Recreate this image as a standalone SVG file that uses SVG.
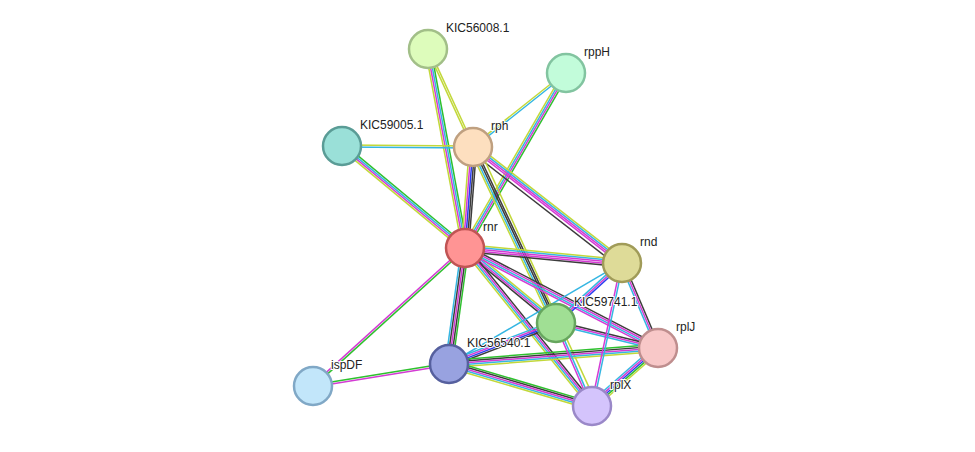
<svg xmlns="http://www.w3.org/2000/svg" width="975" height="452" viewBox="0 0 975 452">
<style>
line{stroke-width:1.5;fill:none}
.y{stroke:#c2d83a}.c{stroke:#35b6e2}.m{stroke:#d43bd4}.k{stroke:#3c3c3c}.g{stroke:#2ec02e}.b{stroke:#2a3cf0}
circle{stroke-width:2.5}
text{font-family:"Liberation Sans",Arial,sans-serif;font-size:12px;fill:#222;paint-order:stroke;stroke:#fff;stroke-width:2px}
</style>
<rect width="975" height="452" fill="#fff"/>
<g id="edges">
<g transform="translate(428,49) rotate(65.3)"><line x2="107.8" y1="-1" y2="-1" class="y"/><line x2="107.8" y1="1" y2="1" class="y"/></g>
<g transform="translate(428,49) rotate(79.5)"><line x2="202.4" y1="-2.7" y2="-2.7" class="g"/><line x2="202.4" y1="-0.9" y2="-0.9" class="c"/><line x2="202.4" y1="0.9" y2="0.9" class="m"/><line x2="202.4" y1="2.7" y2="2.7" class="y"/></g>
<g transform="translate(566,73) rotate(141.5)"><line x2="118.8" y1="-1" y2="-1" class="c"/><line x2="118.8" y1="1" y2="1" class="y"/></g>
<g transform="translate(566,73) rotate(120)"><line x2="202.1" y1="-2.7" y2="-2.7" class="g"/><line x2="202.1" y1="-0.9" y2="-0.9" class="m"/><line x2="202.1" y1="0.9" y2="0.9" class="c"/><line x2="202.1" y1="2.7" y2="2.7" class="y"/></g>
<g transform="translate(342,146) rotate(0.4)"><line x2="131" y1="-1" y2="-1" class="y"/><line x2="131" y1="1" y2="1" class="c"/></g>
<g transform="translate(342,146) rotate(39.7)"><line x2="159.8" y1="-2.7" y2="-2.7" class="g"/><line x2="159.8" y1="-0.9" y2="-0.9" class="c"/><line x2="159.8" y1="0.9" y2="0.9" class="m"/><line x2="159.8" y1="2.7" y2="2.7" class="y"/></g>
<g transform="translate(473,147) rotate(94.5)"><line x2="101.3" y1="-3.6" y2="-3.6" class="k"/><line x2="101.3" y1="-1.8" y2="-1.8" class="k"/><line x2="101.3" y1="0" y2="0" class="b"/><line x2="101.3" y1="1.8" y2="1.8" class="m"/><line x2="101.3" y1="3.6" y2="3.6" class="y"/></g>
<g transform="translate(473,147) rotate(37.9)"><line x2="188.8" y1="-3.6" y2="-3.6" class="y"/><line x2="188.8" y1="-1.8" y2="-1.8" class="c"/><line x2="188.8" y1="0" y2="0" class="m"/><line x2="188.8" y1="1.8" y2="1.8" class="m"/><line x2="188.8" y1="5" y2="5" class="k"/></g>
<g transform="translate(473,147) rotate(64.8)"><line x2="194.6" y1="-1.8" y2="-1.8" class="k"/><line x2="194.6" y1="0" y2="0" class="k"/><line x2="194.6" y1="2" y2="2" class="c"/><line x2="194.6" y1="3.8" y2="3.8" class="y"/></g>
<g transform="translate(473,147) rotate(65.3)"><line x2="285" y1="-5" y2="-5" class="y"/></g>
<g transform="translate(465,248) rotate(5.5)"><line x2="157.7" y1="-3.6" y2="-3.6" class="y"/><line x2="157.7" y1="-1.8" y2="-1.8" class="c"/><line x2="157.7" y1="0" y2="0" class="m"/><line x2="157.7" y1="1.8" y2="1.8" class="m"/><line x2="157.7" y1="3.6" y2="3.6" class="k"/></g>
<g transform="translate(465,248) rotate(39.5)"><line x2="117.9" y1="-2.7" y2="-2.7" class="y"/><line x2="117.9" y1="-0.9" y2="-0.9" class="c"/><line x2="117.9" y1="0.9" y2="0.9" class="m"/><line x2="117.9" y1="2.7" y2="2.7" class="k"/></g>
<g transform="translate(465,248) rotate(27.4)"><line x2="217.4" y1="-2.7" y2="-2.7" class="k"/><line x2="217.4" y1="-0.9" y2="-0.9" class="m"/><line x2="217.4" y1="0.9" y2="0.9" class="c"/><line x2="217.4" y1="2.7" y2="2.7" class="m"/></g>
<g transform="translate(465,248) rotate(51.2)"><line x2="202.7" y1="-2.7" y2="-2.7" class="k"/><line x2="202.7" y1="-0.9" y2="-0.9" class="m"/><line x2="202.7" y1="0.9" y2="0.9" class="c"/><line x2="202.7" y1="2.7" y2="2.7" class="y"/></g>
<g transform="translate(465,248) rotate(97.9)"><line x2="117.1" y1="-3.6" y2="-3.6" class="g"/><line x2="117.1" y1="-1.8" y2="-1.8" class="k"/><line x2="117.1" y1="0" y2="0" class="m"/><line x2="117.1" y1="1.8" y2="1.8" class="k"/><line x2="117.1" y1="3.6" y2="3.6" class="c"/></g>
<g transform="translate(465,248) rotate(137.8)"><line x2="205.3" y1="-1" y2="-1" class="g"/><line x2="205.3" y1="1" y2="1" class="m"/></g>
<g transform="translate(449,364) rotate(170.8)"><line x2="137.8" y1="-1" y2="-1" class="m"/><line x2="137.8" y1="1" y2="1" class="g"/></g>
<g transform="translate(449,364) rotate(-21)"><line x2="114.6" y1="-2.7" y2="-2.7" class="c"/><line x2="114.6" y1="-0.9" y2="-0.9" class="m"/><line x2="114.6" y1="0.9" y2="0.9" class="b"/><line x2="114.6" y1="2.7" y2="2.7" class="k"/></g>
<g transform="translate(449,364) rotate(-4.4)"><line x2="209.6" y1="-3.6" y2="-3.6" class="g"/><line x2="209.6" y1="-1.8" y2="-1.8" class="k"/><line x2="209.6" y1="0" y2="0" class="m"/><line x2="209.6" y1="1.8" y2="1.8" class="c"/><line x2="209.6" y1="3.6" y2="3.6" class="y"/></g>
<g transform="translate(449,364) rotate(16.4)"><line x2="149" y1="-3.6" y2="-3.6" class="g"/><line x2="149" y1="-1.8" y2="-1.8" class="k"/><line x2="149" y1="0" y2="0" class="m"/><line x2="149" y1="1.8" y2="1.8" class="c"/><line x2="149" y1="3.6" y2="3.6" class="y"/></g>
<g transform="translate(449,364) rotate(-30.3)"><line x2="200.3" y1="0" y2="0" class="c"/></g>
<g transform="translate(556,323) rotate(13.8)"><line x2="105" y1="-1.8" y2="-1.8" class="k"/><line x2="105" y1="0" y2="0" class="m"/><line x2="105" y1="1.8" y2="1.8" class="c"/></g>
<g transform="translate(556,323) rotate(66.6)"><line x2="90.5" y1="-1" y2="-1" class="c"/><line x2="90.5" y1="1" y2="1" class="m"/></g>
<g transform="translate(556,323) rotate(-42.3)"><line x2="89.2" y1="-1.8" y2="-1.8" class="c"/><line x2="89.2" y1="0" y2="0" class="m"/><line x2="89.2" y1="1.8" y2="1.8" class="b"/></g>
<g transform="translate(622,263) rotate(67)"><line x2="92.3" y1="-1.8" y2="-1.8" class="k"/><line x2="92.3" y1="0" y2="0" class="m"/><line x2="92.3" y1="1.8" y2="1.8" class="c"/></g>
<g transform="translate(622,263) rotate(101.8)"><line x2="146.1" y1="-1" y2="-1" class="c"/><line x2="146.1" y1="1" y2="1" class="m"/></g>
<g transform="translate(658,348) rotate(138.7)"><line x2="87.9" y1="-3.6" y2="-3.6" class="y"/><line x2="87.9" y1="-1.8" y2="-1.8" class="g"/><line x2="87.9" y1="0" y2="0" class="b"/><line x2="87.9" y1="1.8" y2="1.8" class="m"/><line x2="87.9" y1="3.6" y2="3.6" class="c"/></g>
</g>
<g id="KIC56008.1"><circle cx="428" cy="49" r="19" fill="#ddfcbb" stroke="#a2bf88"/><text x="446" y="32">KIC56008.1</text></g>
<g id="rppH"><circle cx="566" cy="73" r="19" fill="#c2fcda" stroke="#82c4a0"/><text x="584" y="56">rppH</text></g>
<g id="KIC59005.1"><circle cx="342" cy="146" r="19" fill="#9ae0d8" stroke="#5a9c96"/><text x="360" y="129">KIC59005.1</text></g>
<g id="rph"><circle cx="473" cy="147" r="19" fill="#fddfbf" stroke="#bfa080"/><text x="491" y="130">rph</text></g>
<g id="rnr"><circle cx="465" cy="248" r="19" fill="#ff9494" stroke="#c05454"/><text x="483" y="231">rnr</text></g>
<g id="rnd"><circle cx="622" cy="263" r="19" fill="#dedb98" stroke="#a09b58"/><text x="640" y="246">rnd</text></g>
<g id="KIC59741.1"><circle cx="556" cy="323" r="19" fill="#a0df94" stroke="#66a65e"/><text x="574" y="306">KIC59741.1</text></g>
<g id="rplJ"><circle cx="658" cy="348" r="19" fill="#f8c8c8" stroke="#bf8e8e"/><text x="676" y="331">rplJ</text></g>
<g id="KIC56540.1"><circle cx="449" cy="364" r="19" fill="#98a2e0" stroke="#56609e"/><text x="467" y="347">KIC56540.1</text></g>
<g id="ispDF"><circle cx="313" cy="386" r="19" fill="#c2e6fa" stroke="#80a8c6"/><text x="331" y="369">ispDF</text></g>
<g id="rplX"><circle cx="592" cy="406" r="19" fill="#d4c4fc" stroke="#9a88c8"/><text x="610" y="389">rplX</text></g>
</svg>
